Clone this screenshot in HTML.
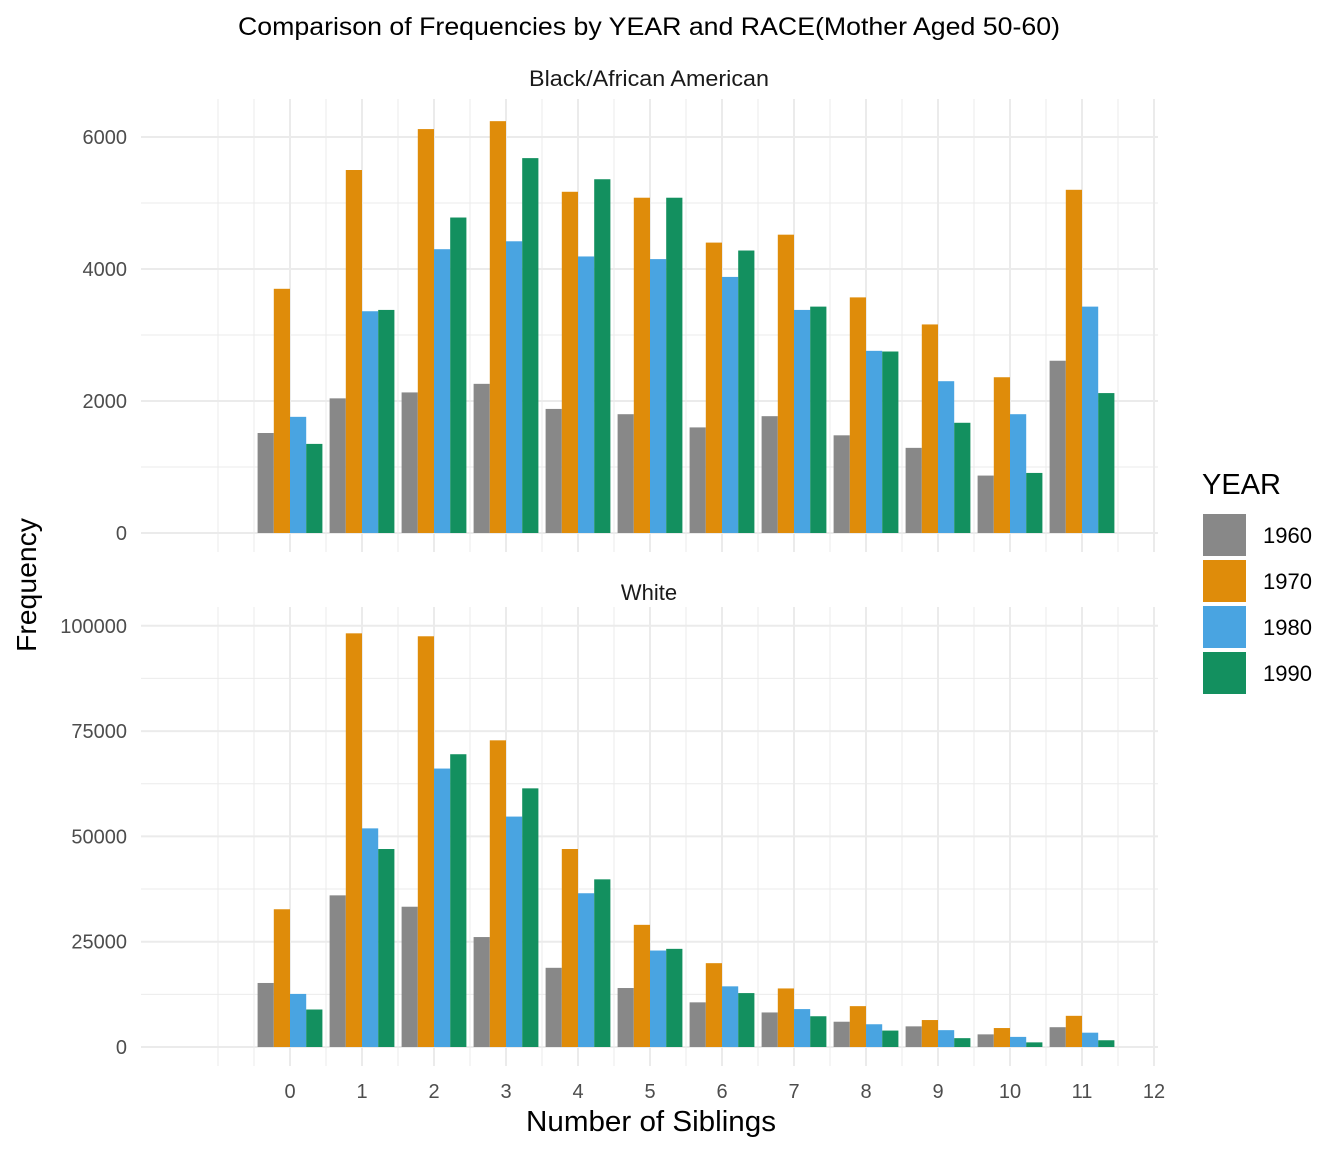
<!DOCTYPE html>
<html><head><meta charset="utf-8"><style>
html,body{margin:0;padding:0;background:#fff;}
svg{display:block;font-family:"Liberation Sans",Arial,sans-serif;}
</style></head><body>
<svg id="chart" width="1344" height="1152" viewBox="0 0 1344 1152" xmlns="http://www.w3.org/2000/svg">
<text x="649" y="35" text-anchor="middle" font-size="25" fill="#000" textLength="822" lengthAdjust="spacingAndGlyphs">Comparison of Frequencies by YEAR and RACE(Mother Aged 50-60)</text>
<text x="649" y="86" text-anchor="middle" font-size="22" fill="#1a1a1a" textLength="240" lengthAdjust="spacingAndGlyphs">Black/African American</text>
<text x="649" y="600" text-anchor="middle" font-size="22" fill="#1a1a1a">White</text>
<text x="651" y="1131" text-anchor="middle" font-size="29" fill="#000" textLength="250" lengthAdjust="spacingAndGlyphs">Number of Siblings</text>
<text transform="translate(36,585) rotate(-90)" text-anchor="middle" font-size="28" fill="#000" textLength="134" lengthAdjust="spacingAndGlyphs">Frequency</text>
<g id="legend">
<text x="1202" y="494" font-size="29" fill="#000" textLength="79" lengthAdjust="spacingAndGlyphs">YEAR</text>
</g>
<g id="plots"></g>
</svg>
<script>
const categories = [0,1,2,3,4,5,6,7,8,9,10,11];
const years = ["1960","1970","1980","1990"];
const colors = ["#888888","#DF8C0A","#49A4E1","#13905F"];
const black1960 = [1515,2040,2130,2260,1880,1800,1600,1770,1480,1290,870,2610];
const black1970 = [3700,5500,6120,6240,5170,5080,4400,4520,3570,3160,2360,5200];
const black1980 = [1760,3360,4300,4420,4190,4150,3880,3380,2760,2300,1800,3430];
const black1990 = [1350,3380,4780,5680,5360,5080,4280,3430,2750,1670,910,2120];
const white1960 = [15200,36000,33300,26100,18800,14000,10600,8200,6000,4900,3000,4700];
const white1970 = [32700,98200,97500,72800,47000,29000,19900,13900,9700,6400,4500,7400];
const white1980 = [12600,51900,66100,54700,36500,22900,14400,9000,5400,4000,2400,3400];
const white1990 = [8900,47000,69500,61400,39800,23300,12800,7300,3900,2100,1100,1600];
const xTicks = [0,1,2,3,4,5,6,7,8,9,10,11,12];
const blackTicks = [0,2000,4000,6000];
const whiteTicks = [0,25000,50000,75000,100000];

const NS="http://www.w3.org/2000/svg";
const plots=document.getElementById('plots');
function mk(tag,attrs,parent){const e=document.createElementNS(NS,tag);for(const k in attrs)e.setAttribute(k,attrs[k]);(parent||plots).appendChild(e);return e;}
const xL=141,xR=1158;
function xs(v){return 290+v*72;}
function panel(name,top,bottom,y0,pxPer,ticks,series){
  const ys=v=>y0-v*pxPer;
  const g=mk('g',{});
  
  
  for(let i=0;i<ticks.length;i++){
    const m=ticks[i]+(ticks[1]-ticks[0])/2;
    const y=ys(m); if(y>top){const l=mk('line',{x1:xL,x2:xR,y1:y,y2:y,stroke:'#ebebeb','stroke-width':1},g);
    }
  }
  for(let v=-0.5;v<12;v+=1){const x=xs(v);
    const l=mk('line',{x1:x,x2:x,y1:top,y2:bottom,stroke:'#ebebeb','stroke-width':1},g);
    }
  for(let v=-1;v<=12;v++){const x=xs(v);
    const l=mk('line',{x1:x,x2:x,y1:top,y2:bottom,stroke:'#ebebeb','stroke-width':v<0?1:2},g);
    }
  ticks.forEach(t=>{const y=ys(t);
    const l=mk('line',{x1:xL,x2:xR,y1:y,y2:y,stroke:'#ebebeb','stroke-width':2},g);
    
    const tx=mk('text',{x:127,y:y+7,'text-anchor':'end','font-size':20,fill:'#4d4d4d'},g);tx.textContent=t;
    });
  const bw=72*0.9/4;
  categories.forEach((c,i)=>{
    series.forEach((s,j)=>{
      const x=xs(c)-72*0.45+j*bw;const y=ys(s[i]);
      const r=mk('rect',{x:x,y:y,width:bw,height:y0-y,fill:colors[j]},g);
      
      
    });
  });
}
panel('black',99,552,533,0.066,blackTicks,[black1960,black1970,black1980,black1990]);
panel('white',607,1066,1047,0.0042125,whiteTicks,[white1960,white1970,white1980,white1990]);
xTicks.forEach(t=>{const tx=mk('text',{x:xs(t),y:1098,'text-anchor':'middle','font-size':20,fill:'#4d4d4d'});tx.textContent=t;
  });
const lg=document.getElementById('legend');
years.forEach((yr,j)=>{
  const y=514+j*46;
  const r=mk('rect',{x:1203,y:y,width:43,height:42,fill:colors[j]},lg);
  
  
  const t=mk('text',{x:1263,y:y+29,'font-size':22,fill:'#000'},lg);t.textContent=yr;
  
  
});
</script>
</body></html>
